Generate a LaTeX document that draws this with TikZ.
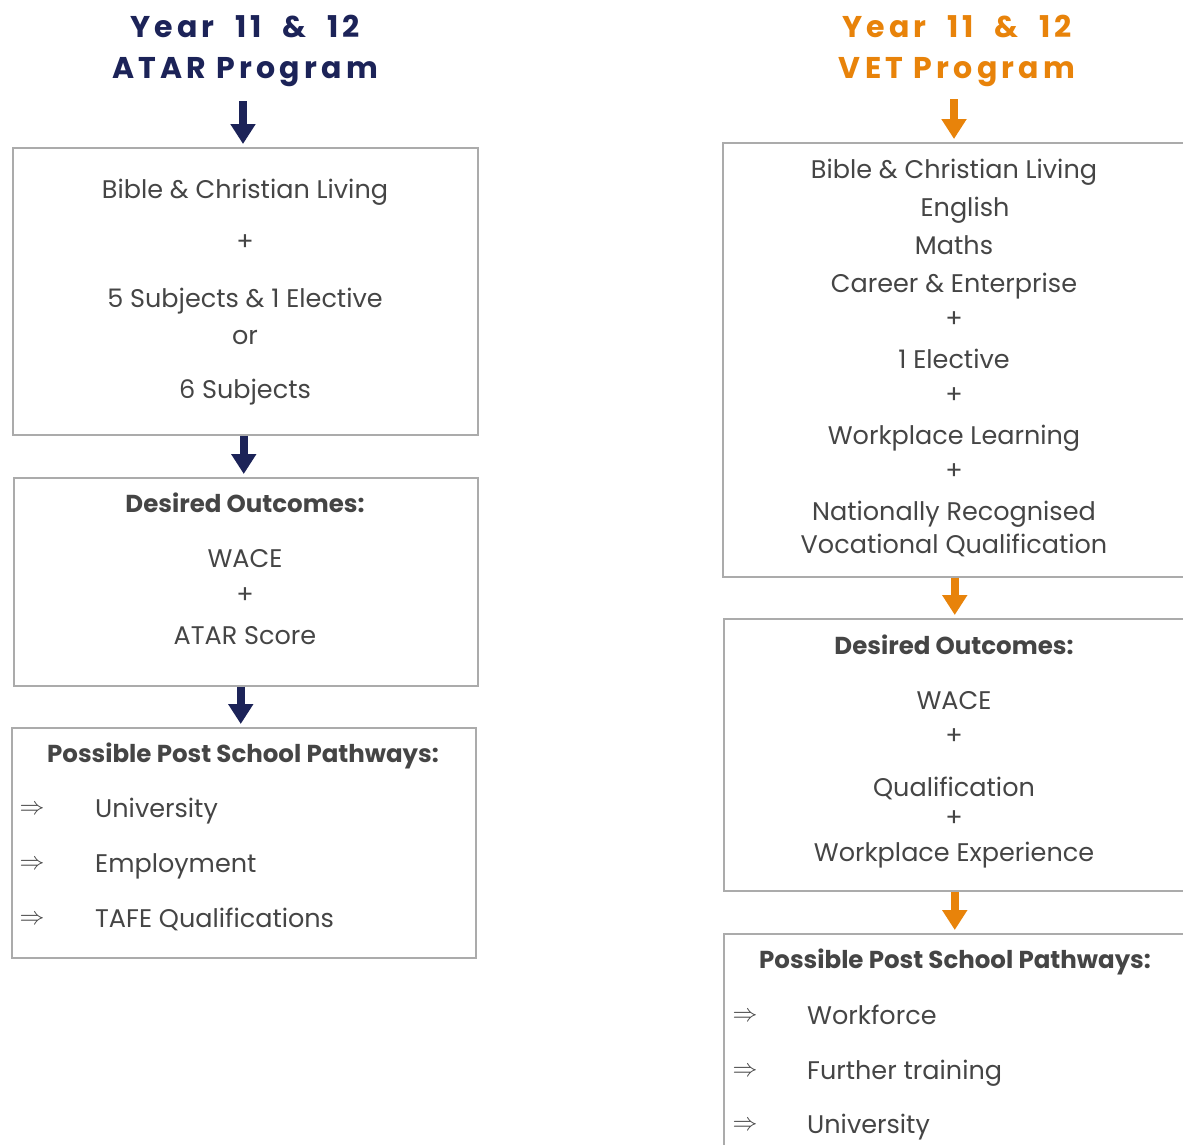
\documentclass[tikz,border=0pt]{standalone}
\usepackage{fontspec}
\setmainfont{Poppins}
\newfontfamily\titlefont[LetterSpace=14,Numbers=Monospaced]{Poppins}
\usetikzlibrary{arrows.meta}
\definecolor{navy}{HTML}{1C2358}
\definecolor{orng}{HTML}{E8830A}
\definecolor{txt}{HTML}{454545}
\definecolor{bord}{HTML}{ABABAB}
\begin{document}
\begin{tikzpicture}[x=1pt,y=-1pt,
  box/.style={draw=bord, line width=1.5pt, anchor=north west, inner sep=0pt},
  ttl/.style={anchor=base, inner sep=0pt, font=\titlefont\bfseries\fontsize{30}{36}\selectfont},
  bt/.style={anchor=base, inner sep=0pt, text=txt, font=\fontsize{25.5}{30}\selectfont},
  hd/.style={anchor=base, inner sep=0pt, text=txt, font=\bfseries\fontsize{24.5}{30}\selectfont},
  pl/.style={anchor=center, inner sep=0pt, text=txt, font=\fontsize{25.5}{30}\selectfont},
  it/.style={anchor=base west, inner sep=0pt, text=txt, font=\fontsize{25.5}{30}\selectfont},
  ar/.style={anchor=center, inner sep=0pt, text=txt, font=\fontsize{34}{36}\selectfont},
  navarr/.style={draw=navy, line width=8pt, -{Triangle[width=24pt,length=20pt]}, shorten >=3pt},
  orarr/.style={draw=orng, line width=8pt, -{Triangle[width=24pt,length=20pt]}, shorten >=3pt}]
\path[use as bounding box, clip] (0,0) rectangle (1183,1144);
\fill[white] (0,0) rectangle (1183,1144);

% ---------- Left column ----------
\node[ttl, text=navy] (lt1) at (245,37) {Year\hspace{10pt} 11\hspace{10pt} \&\hspace{10pt} 12};
\node[ttl, text=navy] (lt2) at (245,78) {ATAR Program};
\coordinate (la0) at (243,101);

\node[box, minimum width=465pt, minimum height=287pt] (lb1) at (12,147) {};
\node[bt] (l1a) at (245,198) {Bible \& Christian Living};
\node[pl] (l1b) at (245,243) {+};
\node[bt] (l1c) at (245,307) {5 Subjects \& 1 Elective};
\node[bt] (l1d) at (245,344) {or};
\node[bt] (l1e) at (245,398) {6 Subjects};

\node[box, minimum width=464pt, minimum height=208pt] (lb2) at (13,477) {};
\node[hd] (l2a) at (245,512) {Desired Outcomes:};
\node[bt] (l2b) at (245,567) {WACE};
\node[pl] (l2c) at (245,596) {+};
\node[bt] (l2d) at (245,644) {ATAR Score};

\node[box, minimum width=464pt, minimum height=230pt] (lb3) at (11,727) {};
\node[hd] (l3h) at (243,762) {Possible Post School Pathways:};
\node[ar] (l3r1) at (32,810) {$\Rightarrow$};
\node[it] (l3i1) at (95,817) {University};
\node[ar] (l3r2) at (32,865) {$\Rightarrow$};
\node[it] (l3i2) at (95,872) {Employment};
\node[ar] (l3r3) at (32,920) {$\Rightarrow$};
\node[it] (l3i3) at (95,927) {TAFE Qualifications};

\draw[navarr] (la0) -- (la0 |- lb1.north);
\draw[navarr] ([xshift=-1.5pt]lb1.south) -- ([xshift=-1.5pt]lb1.south |- lb2.north);
\draw[navarr] ([xshift=-5pt]lb2.south) -- ([xshift=-5pt]lb2.south |- lb3.north);

% ---------- Right column ----------
\node[ttl, text=orng] (rt1) at (957,37) {Year\hspace{10pt} 11\hspace{10pt} \&\hspace{10pt} 12};
\node[ttl, text=orng] (rt2) at (957,78) {VET Program};
\coordinate (ra0) at (954,99);

\node[box, minimum width=464pt, minimum height=434pt] (rb1) at (722,142) {};
\node[bt] (r1a) at (954,178) {Bible \& Christian Living};
\node[bt] (r1b) at (965,216) {English};
\node[bt] (r1c) at (954,254) {Maths};
\node[bt] (r1d) at (954,292) {Career \& Enterprise};
\node[pl] (r1e) at (954,320) {+};
\node[bt] (r1f) at (954,368) {1 Elective};
\node[pl] (r1g) at (954,396) {+};
\node[bt] (r1h) at (954,444) {Workplace Learning};
\node[pl] (r1i) at (954,472) {+};
\node[bt] (r1j) at (954,520) {Nationally Recognised};
\node[bt] (r1k) at (954,553) {Vocational Qualification};

\node[box, minimum width=463pt, minimum height=272pt] (rb2) at (723,618) {};
\node[hd] (r2a) at (954,654) {Desired Outcomes:};
\node[bt] (r2b) at (954,709) {WACE};
\node[pl] (r2c) at (954,737) {+};
\node[bt] (r2d) at (954,796) {Qualification};
\node[pl] (r2e) at (954,819) {+};
\node[bt] (r2f) at (954,861) {Workplace Experience};

\node[box, minimum width=463pt, minimum height=300pt] (rb3) at (723,933) {};
\node[hd] (r3h) at (955,968) {Possible Post School Pathways:};
\node[ar] (r3r1) at (745,1017) {$\Rightarrow$};
\node[it] (r3i1) at (807,1024) {Workforce};
\node[ar] (r3r2) at (745,1072) {$\Rightarrow$};
\node[it] (r3i2) at (807,1079) {Further training};
\node[ar] (r3r3) at (745,1126) {$\Rightarrow$};
\node[it] (r3i3) at (807,1133) {University};

\draw[orarr] (ra0) -- (ra0 |- rb1.north);
\draw[orarr] (rb1.south) -- (rb1.south |- rb2.north);
\draw[orarr] ([xshift=-0.5pt]rb2.south) -- ([xshift=-0.5pt]rb2.south |- rb3.north);
\end{tikzpicture}
\end{document}
